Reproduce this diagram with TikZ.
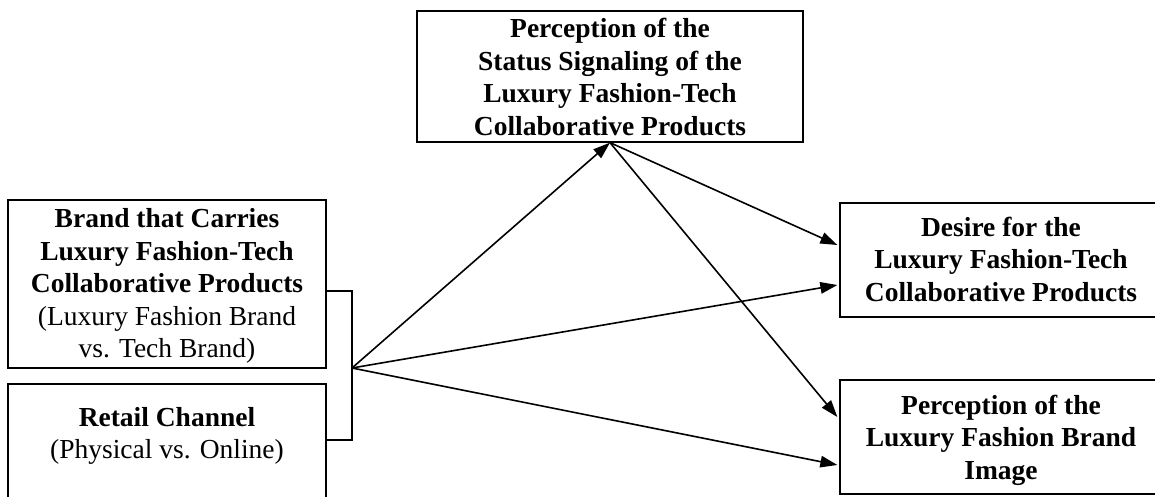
\documentclass[tikz,border=0pt]{standalone}
\usepackage{fontspec}
\setmainfont{Liberation Serif}
\usetikzlibrary{arrows.meta,calc}
\begin{document}
\begin{tikzpicture}[x=1pt,y=-1pt,
  box/.style={draw, line width=1.3pt, rectangle, inner sep=0pt},
  label/.style={align=center, font=\fontsize{27.5}{32.5}\selectfont, inner sep=0pt},
  link/.style={line width=1.6pt, -{Triangle[length=17pt,width=11.5pt]}},
  bracket/.style={line width=1.6pt}]
\useasboundingbox (0,0) rectangle (1155,497);
\clip (0,0) rectangle (1155,497);

% construct boxes
\node[box, minimum width=386, minimum height=131] (status) at (610,76.5) {};
\node[label] at (610,77) {\textbf{Perception of the}\\\textbf{Status Signaling of the}\\\textbf{Luxury Fashion-Tech}\\\textbf{Collaborative Products}};

\node[box, minimum width=318, minimum height=168] (brand) at (167,284) {};
\node[label] at (167,286) {\textbf{Brand that Carries}\\\textbf{Luxury Fashion-Tech}\\\textbf{Collaborative Products}\\(Luxury Fashion Brand\\vs. Tech Brand)};

\node[box, minimum width=318, minimum height=130] (retail) at (167,449) {};
\node[label] at (167,436) {\textbf{Retail Channel}\\(Physical vs. Online)};

\node[box, minimum width=322, minimum height=114] (desire) at (1001,260) {};
\node[label] at (1001,259) {\textbf{Desire for the}\\\textbf{Luxury Fashion-Tech}\\\textbf{Collaborative Products}};

\node[box, minimum width=322, minimum height=114] (image) at (1001,437) {};
\node[label] at (1001,440) {\textbf{Perception of the}\\\textbf{Luxury Fashion Brand}\\\textbf{Image}};

% bracket joining the two independent variables
\coordinate (bt) at (352,291);
\coordinate (bb) at (352,440);
\coordinate (j) at (352,368);
\draw[bracket] (brand.east |- bt) -- (bt) -- (bb) -- (retail.east |- bb);

% paths
\draw[link] (j) -- (status.south);
\draw[link] (status.south) -- ($(desire.west)+(-2,-15)$);
\draw[link] (status.south) -- ($(image.west)+(-2,-20)$);
\draw[link] (j) -- ($(desire.west)+(-2,25)$);
\draw[link] (j) -- ($(image.west)+(-2,28)$);
\end{tikzpicture}
\end{document}
